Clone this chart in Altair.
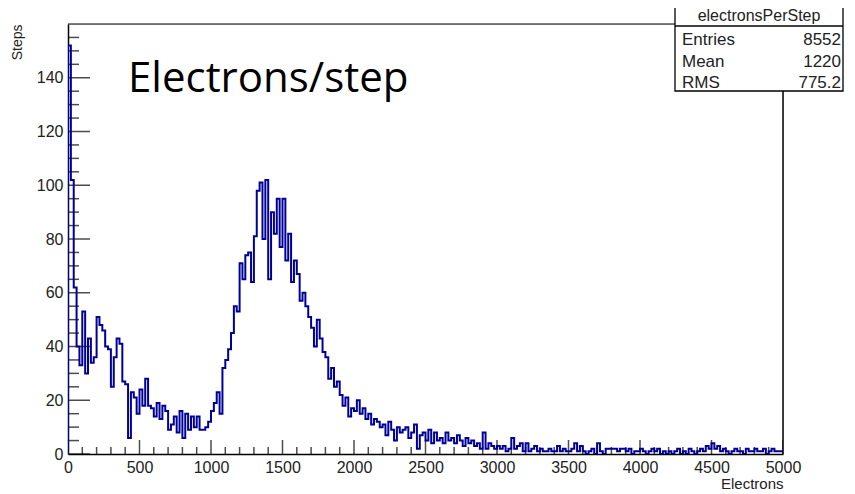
import altair as alt
import pandas as pd

# ---- data (bin width 20 electrons) ----
bin_width = 20
counts = [
    152, 102, 62, 40, 33, 53, 30, 43, 34, 36,
    51, 48, 46, 40, 39, 25, 36, 43, 41, 27,
    26, 6, 23, 21, 15, 24, 18, 28, 18, 17,
    14, 19, 13, 18, 16, 9, 11, 14, 8, 16,
    6, 15, 9, 14, 10, 14, 9, 9, 10, 12,
    16, 19, 23, 15, 32, 35, 39, 45, 55, 53,
    71, 65, 74, 75, 64, 81, 98, 101, 80, 102,
    65, 90, 82, 95, 77, 95, 72, 82, 64, 72,
    67, 57, 60, 55, 51, 47, 40, 50, 43, 38,
    36, 28, 32, 25, 27, 22, 18, 21, 14, 17,
    16, 20, 15, 17, 13, 15, 11, 13, 12, 10,
    11, 7, 12, 9, 5, 10, 8, 9, 10, 6,
    8, 11, 2, 7, 8, 5, 9, 4, 8, 5,
    6, 4, 8, 5, 6, 4, 7, 5, 3, 6,
    4, 5, 3, 4, 2, 8, 2, 4, 3, 2,
    3, 2, 3, 1, 2, 6, 2, 3, 4, 1,
    4, 1, 2, 3, 1, 2, 1, 1, 2, 1,
    1, 3, 1, 2, 1, 1, 2, 4, 1, 3,
    1, 0, 1, 2, 0, 4, 1, 0, 2, 2,
    2, 2, 1, 2, 2, 1, 2, 0, 1, 1,
    2, 1, 0, 1, 2, 1, 2, 0, 1, 0,
    1, 0, 1, 2, 0, 1, 0, 2, 1, 0,
    1, 2, 1, 3, 2, 4, 2, 3, 1, 2,
    1, 0, 1, 2, 1, 1, 0, 2, 1, 1,
    2, 1, 1, 2, 0, 1, 2, 1, 1, 1,
]

x_label_values = [0, 500, 1000, 1500, 2000, 2500, 3000, 3500, 4000, 4500, 5000]
y_label_values = [0, 20, 40, 60, 80, 100, 120, 140]
x_minor_ticks = [v for v in range(0, 5001, 100) if v % 500 != 0]
y_minor_ticks = [v for v in range(0, 161, 5) if v % 20 != 0]

stats_title = "electronsPerStep"
stats_names = ["Entries", "Mean", "RMS"]
stats_values = ["8552", "1220", "775.2"]
chart_title = "Electrons/step"

# ---- build step outline table ----
xs = [0] + [i * bin_width for i in range(len(counts))] + [len(counts) * bin_width]
ys = [0] + counts + [counts[-1]]
hist = pd.DataFrame({"i": range(len(xs)), "x": xs, "y": ys})

W, H = 715, 430
blue = "#000099"
font = "Liberation Sans"

xscale = alt.Scale(domain=[0, 5000], nice=False, zero=False)
yscale = alt.Scale(domain=[0, 160], nice=False)

xaxis = alt.Axis(values=x_label_values, format="d", ticks=False, grid=False,
                 domainColor="black", domainWidth=1.5, labelFont=font,
                 labelFontSize=16, labelColor="#222", labelPadding=5,
                 labelOverlap=False, labelFlush=False, labelBound=False,
                 title="Electrons", titleFont=font, titleFontSize=15,
                 titleFontWeight="normal", titleColor="#222",
                 titleAnchor="end", titleAlign="right",
                 titleBaseline="alphabetic", titleY=34, titleX=W)
yaxis = alt.Axis(values=y_label_values, format="d", ticks=False, grid=False,
                 domainColor="black", domainWidth=1.5, labelFont=font,
                 labelFontSize=16, labelColor="#222", labelPadding=5,
                 labelOverlap=False, labelFlush=False, labelBound=False,
                 title="Steps", titleFont=font, titleFontSize=14,
                 titleFontWeight="normal", titleColor="#222",
                 titleAngle=-90, titleX=-51, titleY=0, titleAlign="right",
                 titleBaseline="middle")

line = alt.Chart(hist).mark_line(
    interpolate="step-after", color=blue, strokeWidth=2, clip=True
).encode(
    x=alt.X("x:Q", scale=xscale, axis=xaxis),
    y=alt.Y("y:Q", scale=yscale, axis=yaxis),
    order="i:Q",
)

xmaj = alt.Chart(pd.DataFrame({"t": x_label_values})).mark_tick(
    orient="vertical", size=28, thickness=1.5, color="black", clip=True
).encode(x=alt.X("t:Q", scale=xscale), y=alt.datum(0))
xmin_ = alt.Chart(pd.DataFrame({"t": x_minor_ticks})).mark_tick(
    orient="vertical", size=14, thickness=1.5, color="black", clip=True
).encode(x=alt.X("t:Q", scale=xscale), y=alt.datum(0))
ymaj = alt.Chart(pd.DataFrame({"t": y_label_values})).mark_tick(
    orient="horizontal", size=44, thickness=1.5, color="black", clip=True
).encode(y=alt.Y("t:Q", scale=yscale), x=alt.datum(0))
ymin_ = alt.Chart(pd.DataFrame({"t": y_minor_ticks})).mark_tick(
    orient="horizontal", size=22, thickness=1.5, color="black", clip=True
).encode(y=alt.Y("t:Q", scale=yscale), x=alt.datum(0))

title_txt = alt.Chart(pd.DataFrame({"t": [chart_title]})).mark_text(
    align="left", baseline="alphabetic", font="Open Sans", fontSize=42,
    color="black"
).encode(text="t:N", x=alt.value(60), y=alt.value(68))

# frame lines (top and right) of the ROOT pad
frame_top = alt.Chart(pd.DataFrame({"a": [0]})).mark_rule(
    color="black", strokeWidth=1.2
).encode(x=alt.value(0), x2=alt.value(W), y=alt.value(0))
frame_right = alt.Chart(pd.DataFrame({"a": [0]})).mark_rule(
    color="black", strokeWidth=1.5
).encode(x=alt.value(W), y=alt.value(0), y2=alt.value(H))

# stats box (ROOT style)
box = alt.Chart(pd.DataFrame({"a": [0]})).mark_rect(
    fill="white", stroke="black", strokeWidth=1.3
).encode(x=alt.value(607), x2=alt.value(775), y=alt.value(-18), y2=alt.value(67))
divider = alt.Chart(pd.DataFrame({"a": [0]})).mark_rule(
    color="black", strokeWidth=1.3
).encode(x=alt.value(607), x2=alt.value(775), y=alt.value(2))
box_head = alt.Chart(pd.DataFrame({"t": [stats_title]})).mark_text(
    align="center", baseline="middle", font=font, fontSize=16, color="#222"
).encode(text="t:N", x=alt.value(691), y=alt.value(-8))

stats_df = pd.DataFrame({"name": stats_names, "val": stats_values,
                         "row": list(range(len(stats_names)))})
yrow = alt.Scale(domain=[0, len(stats_names) - 1], range=[21, 64])
box_names = alt.Chart(stats_df).mark_text(
    align="left", baseline="alphabetic", font=font, fontSize=17, color="#222"
).encode(text="name:N", x=alt.value(614),
         y=alt.Y("row:Q", scale=yrow, axis=None))
box_vals = alt.Chart(stats_df).mark_text(
    align="right", baseline="alphabetic", font=font, fontSize=17, color="#222"
).encode(text="val:N", x=alt.value(773),
         y=alt.Y("row:Q", scale=yrow, axis=None))

main = alt.layer(xmin_, xmaj, ymin_, ymaj, line, title_txt).properties(
    width=W, height=H)
stats = alt.layer(frame_top, frame_right, box, divider, box_head,
                  box_names, box_vals).properties(width=W, height=H)

chart = alt.layer(main, stats).resolve_scale(y="independent").properties(
    width=W, height=H,
    autosize=alt.AutoSizeParams(type="none"),
    padding={"left": 60, "top": 16, "right": 64, "bottom": 38},
).configure_view(stroke="black", strokeWidth=1.2).configure(background="white")

chart.save("out.html", embed_options={"renderer": "svg", "actions": False})
